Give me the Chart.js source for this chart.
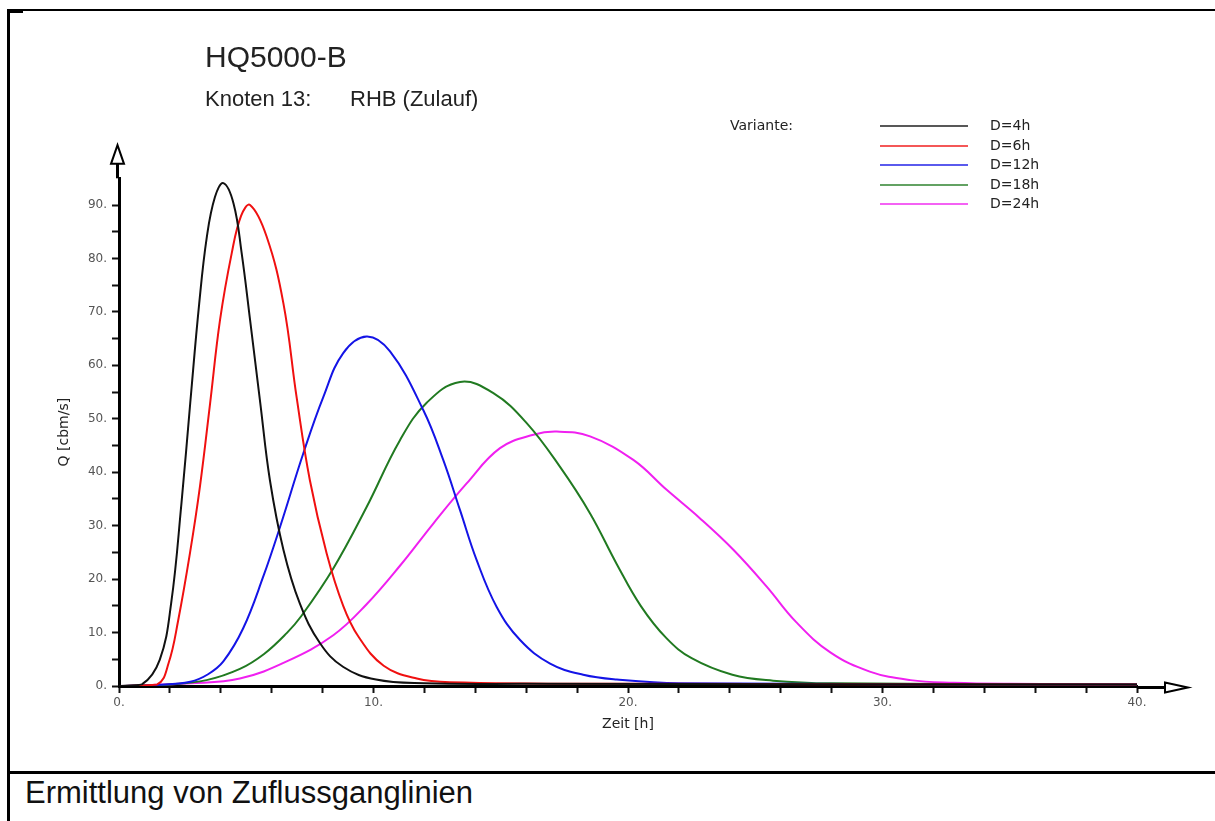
<!DOCTYPE html>
<html>
<head>
<meta charset="utf-8">
<script src="https://cdn.jsdelivr.net/npm/chart.js@4.4.0/dist/chart.umd.min.js"></script>
<style>
    body {
        margin: 0;
        width: 1215px;
        height: 821px;
        overflow: hidden;
        position: relative;
        background: #fff;
        font-family: "Liberation Sans", Arial, sans-serif;
        color: #111;
    }
    .rule { position: absolute; background: #000; }
    #hydroChart { position: absolute; left: 0; top: 0; }
    #title { position: absolute; left: 205px; top: 40px; font-size: 30px; color: #222; white-space: nowrap; }
    #subtitle { position: absolute; top: 86px; font-size: 22px; color: #222; white-space: nowrap; }
    #subtitle span { position: absolute; top: 0; }
    #caption { position: absolute; left: 25px; top: 775px; font-size: 31px; white-space: nowrap; }
    .legend-row {
        position: absolute;
        height: 19.5px;
        line-height: 19.5px;
        font-family: "DejaVu Sans", sans-serif;
        font-size: 14px;
        color: #222;
        white-space: nowrap;
    }
    .legend-line { position: absolute; height: 2px; opacity: 0.7; }
</style>
</head>
<body>
<div class="rule" style="left:7px; top:9px; width:2.5px; height:812px;"></div>
<div class="rule" style="left:7px; top:9px; width:1208px; height:2px;"></div>
<div class="rule" style="left:7px; top:9px; width:16px; height:3.5px;"></div>
<div class="rule" style="left:7px; top:771px; width:1208px; height:2.5px;"></div>

<canvas id="hydroChart" width="1215" height="760"></canvas>

<div id="title">HQ5000-B</div>
<div id="subtitle"><span style="left:205px">Knoten 13:</span><span style="left:350px">RHB (Zulauf)</span></div>
<div id="legend"></div>
<div id="caption">Ermittlung von Zuflussganglinien</div>

<script>
var zeitD4 = [0, 0.9, 1.6, 2.05, 2.45, 2.8, 3.15, 3.45, 3.77, 4.1, 4.5, 4.82, 5.15, 5.55, 5.93, 6.46, 7.1, 7.9, 8.8, 10.1, 12, 16, 40];
var qD4 = [0, 0.3, 4.9, 15.5, 34, 53, 71.5, 84, 91.5, 94.1, 90.3, 81, 68.5, 53, 38.5, 25.5, 15.5, 8, 3.6, 1.2, 0.5, 0.4, 0.3];

var zeitD6 = [0, 1.5, 1.95, 2.33, 2.79, 3.18, 3.58, 3.97, 4.43, 4.8, 5.15, 5.8, 6.46, 6.98, 7.5, 8.16, 8.81, 9.4, 10.4, 11.7, 13, 20, 40];
var qD6 = [0, 0.3, 4.3, 12.4, 24.9, 37.3, 52.9, 68.5, 81, 88, 90, 84.1, 71.6, 54, 38.5, 24.8, 15, 9.3, 3.8, 1.4, 0.7, 0.4, 0.3];

var zeitD12 = [0, 1.5, 2.8, 3.5, 4.1, 4.88, 5.67, 6.33, 7.24, 8.03, 8.81, 9.73, 10.65, 11.96, 12.74, 13.4, 14.05, 14.84, 15.76, 16.94, 18.24, 19.56, 22, 40];
var qD12 = [0, 0.2, 0.8, 2.2, 4.6, 10.8, 20.5, 29.8, 43.5, 54.1, 62.3, 65.4, 62.6, 51.6, 42.3, 32.9, 23.6, 14.8, 8.6, 4.2, 2.1, 1.2, 0.5, 0.3];

var zeitD18 = [0, 2, 3.44, 4.75, 5.7, 6.59, 7.15, 8.42, 9.73, 11.04, 12.09, 13.4, 14.71, 16.02, 17.33, 18.51, 19.56, 20.5, 21.5, 22.5, 24.1, 25.7, 28, 40];
var qD18 = [0, 0.3, 1.1, 3.2, 6, 9.9, 13, 22, 33.5, 46, 53, 56.9, 54.8, 49.2, 41, 32.3, 22.8, 15, 9, 5.2, 2.1, 1.0, 0.5, 0.3];

var zeitD24 = [0, 2.8, 4.75, 6.59, 8.42, 9.73, 11.04, 12.35, 13.66, 14.97, 16.28, 17.2, 18.51, 20.21, 21.52, 22.8, 24.14, 25.45, 26.6, 27.95, 29.5, 31.1, 32.8, 35, 40];
var qD24 = [0, 0.5, 1.4, 4.6, 9.5, 15.3, 22.5, 30.4, 37.9, 44.5, 47, 47.6, 46.7, 42.3, 36.7, 31.5, 25.5, 18.6, 12, 6.3, 2.7, 1.1, 0.6, 0.4, 0.3];

var varianten = ['D=4h', 'D=6h', 'D=12h', 'D=18h', 'D=24h'];
var farben = ['#111111', '#f01010', '#1414e6', '#217a21', '#f020f0'];
var zeiten = [zeitD4, zeitD6, zeitD12, zeitD18, zeitD24];
var abfluesse = [qD4, qD6, qD12, qD18, qD24];

// Axis ranges and arrow heads (in axis units)
var xMax = 40, yMax = 95;
var xArrow = [41.1, 42.0];
var yArrow = [97.7, 101.2];

// Build {x, y} points for one variant
function toPoints(t, q) {
    var pts = [];
    for (var i = 0; i < t.length; i++) {
        pts.push({ x: t[i], y: q[i] });
    }
    return pts;
}

var datasets = [];
for (var i = 0; i < varianten.length; i++) {
    datasets.push({
        label: varianten[i],
        data: toPoints(zeiten[i], abfluesse[i]),
        borderColor: farben[i],
        backgroundColor: farben[i],
        borderWidth: 2,
        pointRadius: 0,
        tension: 0.4,
        fill: false
    });
}

// Axis lines get an open arrow head at their ends
var axisArrows = {
    id: 'axisArrows',
    afterDraw: function (chart) {
        var c = chart.ctx;
        var xs = chart.scales.x, ys = chart.scales.y;
        var ax = xs.left - 1.5;
        var ay = ys.bottom + 1.5;

        c.save();
        c.strokeStyle = '#000';
        c.fillStyle = '#fff';
        c.lineJoin = 'miter';

        // y axis
        var yBase = ys.getPixelForValue(yArrow[0]);
        var yTip = ys.getPixelForValue(yArrow[1]);
        c.lineWidth = 3;
        c.beginPath();
        c.moveTo(ax, ys.top);
        c.lineTo(ax, yBase);
        c.stroke();
        c.lineWidth = 2;
        c.beginPath();
        c.moveTo(ax - 6.5, yBase);
        c.lineTo(ax + 6.5, yBase);
        c.lineTo(ax, yTip);
        c.closePath();
        c.fill();
        c.stroke();

        // x axis
        var xBase = xs.getPixelForValue(xArrow[0]);
        var xTip = xs.getPixelForValue(xArrow[1]);
        c.lineWidth = 3;
        c.beginPath();
        c.moveTo(xs.right, ay);
        c.lineTo(xBase, ay);
        c.stroke();
        c.lineWidth = 2;
        c.beginPath();
        c.moveTo(xBase, ay - 5);
        c.lineTo(xBase, ay + 5);
        c.lineTo(xTip, ay);
        c.closePath();
        c.fill();
        c.stroke();
        c.restore();
    }
};

var tickFont = { family: 'DejaVu Sans', size: 12 };
var titleFont = { family: 'DejaVu Sans', size: 14 };

function tenthLabel(v) {
    return v % 10 === 0 ? v + '.' : '';
}

var ctx = document.getElementById('hydroChart').getContext('2d');
var hydroChart = new Chart(ctx, {
    type: 'line',
    data: { datasets: datasets },
    plugins: [axisArrows],
    options: {
        responsive: false,
        animation: false,
        layout: { padding: { left: 56, right: 78, top: 178.3, bottom: 27 } },
        plugins: {
            legend: { display: false },
            tooltip: { enabled: false }
        },
        scales: {
            x: {
                type: 'linear',
                min: 0,
                max: xMax,
                afterFit: function (s) { s.height = 47; },
                ticks: {
                    stepSize: 2,
                    autoSkip: false,
                    maxRotation: 0,
                    padding: 3,
                    color: '#555',
                    font: tickFont,
                    callback: tenthLabel
                },
                grid: { drawOnChartArea: false, tickLength: 7, tickWidth: 2, tickColor: '#111' },
                border: { display: true, color: '#000', width: 3 },
                title: { display: true, text: 'Zeit [h]', color: '#222', font: titleFont, padding: 0 }
            },
            y: {
                type: 'linear',
                min: 0,
                max: yMax,
                afterFit: function (s) { s.width = 63; },
                afterBuildTicks: function (s) {
                    s.ticks = s.ticks.filter(function (t) { return t.value <= 90; });
                },
                ticks: {
                    stepSize: 5,
                    autoSkip: false,
                    padding: 5,
                    color: '#555',
                    font: tickFont,
                    callback: tenthLabel
                },
                grid: { drawOnChartArea: false, tickLength: 7, tickWidth: 2, tickColor: '#111' },
                border: { display: true, color: '#000', width: 3 },
                title: { display: true, text: 'Q [cbm/s]', color: '#222', font: titleFont, padding: 0 }
            }
        }
    }
});

// Legend block ("Variante:" and one line per duration)
var legend = document.getElementById('legend');
var rowTop = 126, rowStep = 19.5;
var head = document.createElement('div');
head.className = 'legend-row';
head.style.left = '730px';
head.style.top = (rowTop - rowStep / 2) + 'px';
head.textContent = 'Variante:';
legend.appendChild(head);

hydroChart.data.datasets.forEach(function (ds, i) {
    var cy = rowTop + i * rowStep;
    var line = document.createElement('div');
    line.className = 'legend-line';
    line.style.left = '880px';
    line.style.width = '88px';
    line.style.top = (cy - 1) + 'px';
    line.style.background = ds.borderColor;
    legend.appendChild(line);

    var label = document.createElement('div');
    label.className = 'legend-row';
    label.style.left = '990px';
    label.style.top = (cy - rowStep / 2) + 'px';
    label.textContent = ds.label;
    legend.appendChild(label);
});
</script>
</body>
</html>
